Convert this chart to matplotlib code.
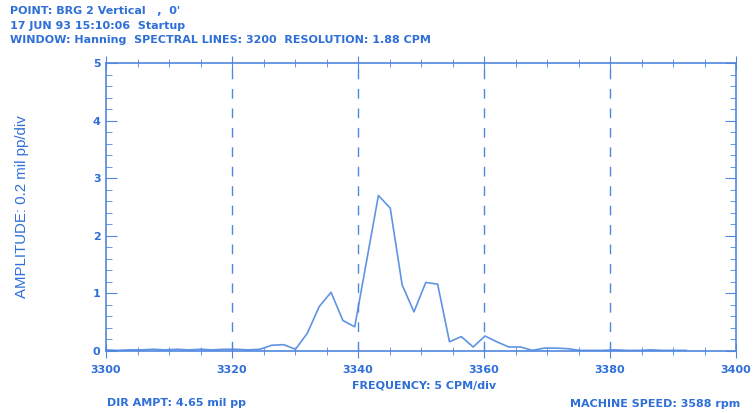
import matplotlib
matplotlib.use('Agg')
import matplotlib.pyplot as plt
from matplotlib.ticker import MultipleLocator

plt.rcParams['font.family'] = ['DejaVu Sans']

# spectrum points, 1.88 CPM spacing
freq = [3300.00, 3301.88, 3303.76, 3305.64, 3307.52, 3309.40, 3311.28, 3313.16,
        3315.04, 3316.92, 3318.80, 3320.68, 3322.56, 3324.44, 3326.32, 3328.20,
        3330.08, 3331.96, 3333.84, 3335.72, 3337.60, 3339.48, 3341.36, 3343.24,
        3345.12, 3347.00, 3348.88, 3350.76, 3352.64, 3354.52, 3356.40, 3358.28,
        3360.16, 3362.04, 3363.92, 3365.80, 3367.68, 3369.56, 3371.44, 3373.32,
        3375.20, 3377.08, 3378.96, 3380.84, 3382.72, 3384.60, 3386.48, 3388.36,
        3390.24, 3392.12]
amp = [0.02, 0.01, 0.02, 0.02, 0.03, 0.02, 0.03, 0.02,
       0.03, 0.02, 0.03, 0.03, 0.02, 0.03, 0.10, 0.11,
       0.03, 0.31, 0.77, 1.02, 0.53, 0.42, 1.56, 2.70,
       2.48, 1.15, 0.68, 1.19, 1.16, 0.16, 0.25, 0.07,
       0.26, 0.16, 0.07, 0.07, 0.01, 0.05, 0.05, 0.04,
       0.01, 0.01, 0.01, 0.02, 0.01, 0.01, 0.02, 0.01,
       0.01, 0.01]

x_ticks = [3300, 3320, 3340, 3360, 3380, 3400]
y_ticks = [0, 1, 2, 3, 4, 5]
header = ["POINT: BRG 2 Vertical   ,  0'",
          "17 JUN 93 15:10:06  Startup",
          "WINDOW: Hanning  SPECTRAL LINES: 3200  RESOLUTION: 1.88 CPM"]

txt_c = '#2f6fd8'
ax_c = '#4f86e0'
line_c = '#5f93e4'

fig = plt.figure(figsize=(7.53, 4.13), dpi=100)
ax = fig.add_axes([106 / 753, 62 / 413, 630 / 753, 288 / 413])

ax.plot(freq, amp, color=line_c, lw=1.2)

ax.set_xlim(3300, 3400)
ax.set_ylim(0, 5)
for v in x_ticks[1:-1]:
    ax.axvline(v, color=ax_c, lw=1.0, ls=(0, (7, 7)))

for s in ax.spines.values():
    s.set_color(ax_c)
    s.set_linewidth(1.2)

ax.set_xticks(x_ticks)
ax.set_yticks(y_ticks)
ax.xaxis.set_minor_locator(MultipleLocator(5))
ax.yaxis.set_minor_locator(MultipleLocator(0.2))
ax.tick_params(axis='both', which='both', colors=ax_c, direction='in',
               top=True, right=True, labelcolor=txt_c, labelsize=8)
ax.tick_params(axis='x', which='major', direction='inout', length=10, pad=5)
ax.tick_params(axis='x', which='minor', direction='inout', length=6)
ax.tick_params(axis='y', which='major', length=8, pad=4)
ax.tick_params(axis='y', which='minor', length=4)
for lab in ax.get_xticklabels() + ax.get_yticklabels():
    lab.set_fontweight('bold')

ax.set_ylabel('AMPLITUDE: 0.2 mil pp/div', color=txt_c, fontsize=10.8,
              family=['Liberation Sans', 'DejaVu Sans'])
ax.yaxis.set_label_coords(-0.123, 0.5)

for i, t in enumerate(header):
    fig.text(10 / 753, 1 - (11 + 14.7 * i) / 413, t, color=txt_c, fontsize=8,
             fontweight='bold', va='center', ha='left')

fig.text(424 / 753, 1 - 386 / 413, 'FREQUENCY: 5 CPM/div', color=txt_c,
         fontsize=8, fontweight='bold', ha='center', va='center')
fig.text(107 / 753, 1 - 403 / 413, 'DIR AMPT: 4.65 mil pp', color=txt_c,
         fontsize=8, fontweight='bold', ha='left', va='center')
fig.text(740 / 753, 1 - 404 / 413, 'MACHINE SPEED: 3588 rpm', color=txt_c,
         fontsize=8, fontweight='bold', ha='right', va='center')

fig.savefig('out.png', dpi=100)
